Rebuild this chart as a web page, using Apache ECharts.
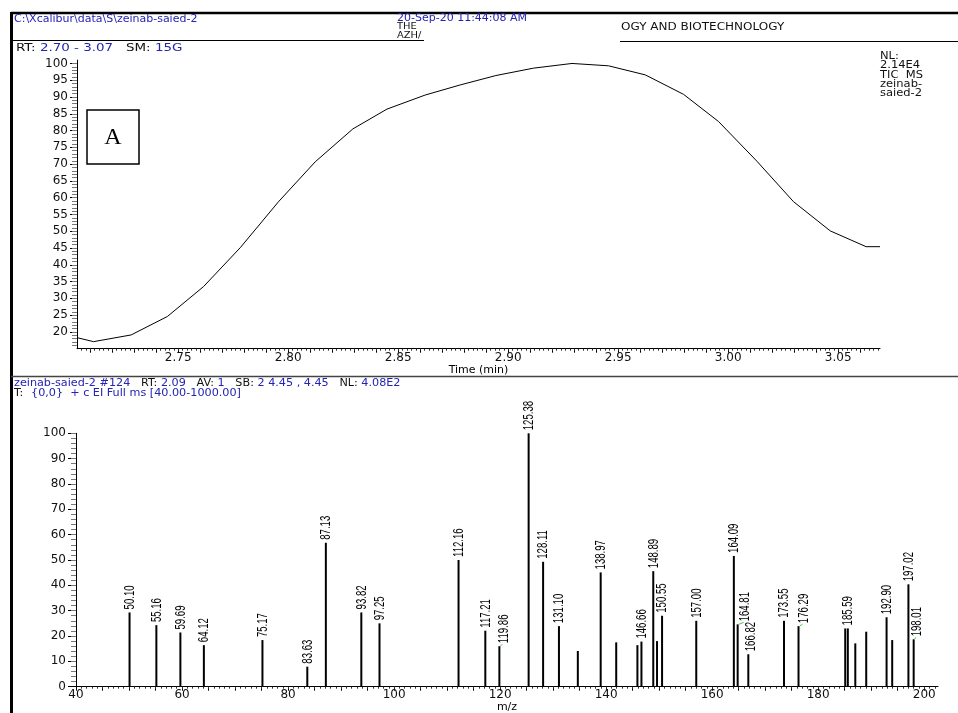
<!DOCTYPE html>
<html><head><meta charset="utf-8">
<script src="https://cdn.jsdelivr.net/npm/echarts@6/dist/echarts.min.js"></script>
<style>html,body{margin:0;padding:0;background:#fff;}#chart{width:958px;height:713px;}</style>
</head><body><div id="chart"></div>
<script>
// ---- TIC chromatogram (panel A) ----
const ticTime = [2.704, 2.7115, 2.7286, 2.7451, 2.7615, 2.7782, 2.7956, 2.8123, 2.8294, 2.8449, 2.8623, 2.8782, 2.8944, 2.9115, 2.9290, 2.9456, 2.9623, 2.9797, 2.9956, 3.0130, 3.0297, 3.0464, 3.0627, 3.069];
const ticRel  = [18.3, 17.1, 19.1, 24.6, 33.5, 45.1, 58.8, 70.7, 80.5, 86.4, 90.6, 93.6, 96.4, 98.6, 100, 99.3, 96.6, 90.8, 82.7, 70.9, 58.8, 50.1, 45.4, 45.4];
const ticXLabels = [2.75, 2.80, 2.85, 2.90, 2.95, 3.00, 3.05];
const ticYLabels = [20, 25, 30, 35, 40, 45, 50, 55, 60, 65, 70, 75, 80, 85, 90, 95, 100];

// ---- Mass spectrum ----
const peakMz        = [50.10, 55.16, 59.69, 64.12, 75.17, 83.63, 87.13, 93.82, 97.25, 112.16, 117.21, 119.86, 125.38, 128.11, 131.10, 134.66, 138.97, 141.90, 145.90, 146.66, 148.89, 149.60, 150.55, 157.00, 164.09, 164.81, 166.82, 173.55, 176.29, 185.10, 185.59, 187.00, 189.06, 192.90, 193.96, 197.02, 198.01];
const peakIntensity = [29.3, 24.3, 21.4, 16.4, 18.4, 7.9, 56.8, 29.3, 25.0, 50.0, 22.1, 16.0, 100, 49.3, 23.9, 14.1, 45.1, 17.5, 16.4, 17.8, 45.6, 18.0, 28.0, 26.0, 51.6, 24.6, 12.8, 26.0, 23.9, 23.0, 23.0, 17.1, 21.7, 27.4, 18.4, 40.4, 18.7];
const peakLabeled   = [1, 1, 1, 1, 1, 1, 1, 1, 1, 1, 1, 1, 1, 1, 1, 0, 1, 0, 0, 1, 1, 0, 1, 1, 1, 1, 1, 1, 1, 0, 1, 0, 0, 1, 0, 1, 1];
const msXLabels = [40, 60, 80, 100, 120, 140, 160, 180, 200];
const msYLabels = [0, 10, 20, 30, 40, 50, 60, 70, 80, 90, 100];

// tick helper (axis tick positions only)
function steps(a, b, s, dec) { const r = []; for (let v = a; v <= b + s / 2; v += s) r.push(+v.toFixed(dec)); return r; }

const ticMajorTicks = steps(2.71, 3.06, 0.01, 3);
const ticMinorTicks = steps(2.706, 3.068, 0.002, 3);
const ticYMinor = steps(16, 100, 1, 0);
const msXMid = steps(40, 200, 5, 0);
const msXMinor = steps(41, 202, 1, 0);
const msYMinor = steps(2, 100, 2, 0);

// label nudges (style only) for crowded peaks; these get a small green leader
const labelShift = {'119.86': 4, '164.81': 7, '166.82': 2, '176.29': 5, '198.01': 3};

const FONT = 'DejaVu Sans';
const BLUE = '#2424b4';
const axisLbl = {fontFamily: FONT, fontSize: 12, color: '#111'};

const chart = echarts.init(document.getElementById('chart'), null, {renderer: 'canvas'});

const peaksData = peakMz.map((m, i) => [m, peakIntensity[i], peakLabeled[i]]);

function txt(x, y, s, color, size, extra) {
  return Object.assign({type: 'text', x: x, y: y,
    style: {text: s, fill: color, fontFamily: FONT, fontSize: size, verticalAlign: 'middle'}}, extra || {});
}

const option = {
  backgroundColor: '#fff',
  animation: false,
  grid: [
    {left: 77, right: 78, top: 60.1, bottom: 364.3, outerBoundsMode: 'none', containLabel: false},
    {left: 76, right: 20, top: 433.3, bottom: 26.3, outerBoundsMode: 'none', containLabel: false}
  ],
  xAxis: [
    {type: 'value', gridIndex: 0, min: 2.704, max: 3.069, position: 'bottom',
     axisLine: {show: true, onZero: false, lineStyle: {color: '#000', width: 1}},
     axisTick: {show: true, customValues: ticMajorTicks, length: 4, lineStyle: {color: '#000'}},
     axisLabel: Object.assign({customValues: ticXLabels, margin: 3, formatter: v => v.toFixed(2)}, axisLbl),
     splitLine: {show: false},
     name: 'Time (min)', nameLocation: 'middle', nameGap: 14,
     nameTextStyle: {fontFamily: FONT, fontSize: 11, color: '#000'}},
    {type: 'value', gridIndex: 0, min: 2.704, max: 3.069, position: 'bottom',
     axisLine: {show: false, onZero: false},
     axisTick: {show: true, customValues: ticMinorTicks, length: 2, lineStyle: {color: '#333'}},
     axisLabel: {show: false}, splitLine: {show: false}},
    {type: 'value', gridIndex: 1, min: 40, max: 202.6, position: 'bottom',
     axisLine: {show: true, onZero: false, lineStyle: {color: '#000', width: 1}},
     axisTick: {show: true, customValues: msXMid, length: 4, lineStyle: {color: '#000'}},
     axisLabel: Object.assign({customValues: msXLabels, margin: 2}, axisLbl),
     splitLine: {show: false},
     name: 'm/z', nameLocation: 'middle', nameGap: 13,
     nameTextStyle: {fontFamily: FONT, fontSize: 11, color: '#000'}},
    {type: 'value', gridIndex: 1, min: 40, max: 202.6, position: 'bottom',
     axisLine: {show: false, onZero: false},
     axisTick: {show: true, customValues: msXMinor, length: 2, lineStyle: {color: '#333'}},
     axisLabel: {show: false}, splitLine: {show: false}}
  ],
  yAxis: [
    {type: 'value', gridIndex: 0, min: 15, max: 101, position: 'left',
     axisLine: {show: true, onZero: false, lineStyle: {color: '#000', width: 1}},
     axisTick: {show: true, customValues: ticYLabels, length: 7, lineStyle: {color: '#000'}},
     axisLabel: Object.assign({customValues: ticYLabels, margin: 9}, axisLbl),
     splitLine: {show: false}},
    {type: 'value', gridIndex: 0, min: 15, max: 101, position: 'left',
     axisLine: {show: false, onZero: false},
     axisTick: {show: true, customValues: ticYMinor, length: 5, lineStyle: {color: '#777'}},
     axisLabel: {show: false}, splitLine: {show: false}},
    {type: 'value', gridIndex: 1, min: 0, max: 100, position: 'left',
     axisLine: {show: true, onZero: false, lineStyle: {color: '#000', width: 1}},
     axisTick: {show: true, customValues: msYLabels, length: 8, lineStyle: {color: '#000'}},
     axisLabel: Object.assign({customValues: msYLabels, margin: 10}, axisLbl),
     splitLine: {show: false}},
    {type: 'value', gridIndex: 1, min: 0, max: 100, position: 'left',
     axisLine: {show: false, onZero: false},
     axisTick: {show: true, customValues: msYMinor, length: 5, lineStyle: {color: '#777'}},
     axisLabel: {show: false}, splitLine: {show: false}}
  ],
  series: [
    {type: 'line', xAxisIndex: 0, yAxisIndex: 0, symbol: 'none', smooth: false,
     lineStyle: {color: '#000', width: 1}, data: ticTime.map((t, i) => [t, ticRel[i]])},
    {type: 'custom', xAxisIndex: 2, yAxisIndex: 2, encode: {x: 0, y: 1},
     data: peaksData,
     renderItem: function (params, api) {
       const mz = api.value(0), it = api.value(1), lab = api.value(2);
       const p0 = api.coord([mz, 0]);
       const p1 = api.coord([mz, it]);
       const children = [{type: 'line', shape: {x1: p0[0], y1: p0[1], x2: p1[0], y2: p1[1]},
         style: {stroke: '#000', lineWidth: 2}}];
       if (lab) {
         const key = mz.toFixed(2);
         const dx = labelShift[key] || 0;
         if (dx > 2) {
           children.push({type: 'line', shape: {x1: p1[0] + 1, y1: p1[1], x2: p1[0] + dx - 1, y2: p1[1] - 2},
             style: {stroke: '#4c4', lineWidth: 1}});
         }
         children.push({type: 'text', x: p1[0] + dx + 0.5, y: p1[1] - 3, rotation: Math.PI / 2,
           scaleX: 0.8, scaleY: 1.15,
           style: {text: key, fontFamily: 'Liberation Sans', fontSize: 12, fill: '#000',
             align: 'left', verticalAlign: 'middle'}});
       }
       return {type: 'group', children: children};
     }}
  ],
  graphic: [
    // outer frame
    {type: 'line', shape: {x1: 11, y1: 13, x2: 958, y2: 13}, style: {stroke: '#000', lineWidth: 2.5}},
    {type: 'line', shape: {x1: 11.5, y1: 12, x2: 11.5, y2: 713}, style: {stroke: '#000', lineWidth: 3}},
    // header lines
    {type: 'line', shape: {x1: 11, y1: 40.5, x2: 424, y2: 40.5}, style: {stroke: '#000', lineWidth: 1}},
    {type: 'line', shape: {x1: 620, y1: 41.5, x2: 958, y2: 41.5}, style: {stroke: '#000', lineWidth: 1}},
    // separator
    {type: 'line', shape: {x1: 11, y1: 376.5, x2: 958, y2: 376.5}, style: {stroke: '#444', lineWidth: 1.5}},
    // header texts
    txt(14, 19, 'C:\\Xcalibur\\data\\S\\zeinab-saied-2', BLUE, 10, {scaleX: 1.1}),
    txt(397, 18.5, '20-Sep-20 11:44:08 AM', BLUE, 10, {scaleX: 1.1}),
    txt(397, 27, 'THE', '#111', 9, {scaleX: 1.1}),
    txt(397, 35.5, 'AZH/', '#111', 9, {scaleX: 1.1}),
    txt(621, 27, 'OGY AND BIOTECHNOLOGY', '#111', 10, {scaleX: 1.2}),
    {type: 'text', x: 16, y: 48, scaleX: 1.28, style: {text: '{k|RT:} {v|2.70 - 3.07}   {k|SM:} {v|15G}', fontFamily: FONT, fontSize: 10.5, verticalAlign: 'middle',
      rich: {k: {fill: '#111', fontFamily: FONT, fontSize: 10.5}, v: {fill: BLUE, fontFamily: FONT, fontSize: 10.5}}}},
    // NL block
    {type: 'text', x: 880, y: 52, scaleX: 1.15, style: {text: 'NL:\n2.14E4\nTIC  MS\nzeinab-\nsaied-2', fill: '#111', fontFamily: FONT, fontSize: 10, lineHeight: 9.2, verticalAlign: 'top'}},
    // panel label A
    {type: 'rect', shape: {x: 87, y: 110, width: 52, height: 54}, style: {fill: '#fff', stroke: '#000', lineWidth: 1.5}},
    {type: 'text', x: 113, y: 138, style: {text: 'A', fill: '#000', fontFamily: 'Liberation Serif', fontSize: 24, align: 'center', verticalAlign: 'middle'}},
    // spectrum header
    {type: 'text', x: 14, y: 383, scaleX: 1.12, style: {text: '{v|zeinab-saied-2 #124}   {k|RT:} {v|2.09}   {k|AV:} {v|1}   {k|SB:} {v|2 4.45 , 4.45}   {k|NL:} {v|4.08E2}', fontFamily: FONT, fontSize: 10, verticalAlign: 'middle',
      rich: {k: {fill: '#111', fontFamily: FONT, fontSize: 10}, v: {fill: BLUE, fontFamily: FONT, fontSize: 10}}}},
    txt(14, 393, 'T:', '#111', 10, {scaleX: 1.12}),
    txt(31, 393, '{0,0}  + c EI Full ms [40.00-1000.00]', BLUE, 10, {scaleX: 1.12})
  ]
};
chart.setOption(option);
</script></body></html>
